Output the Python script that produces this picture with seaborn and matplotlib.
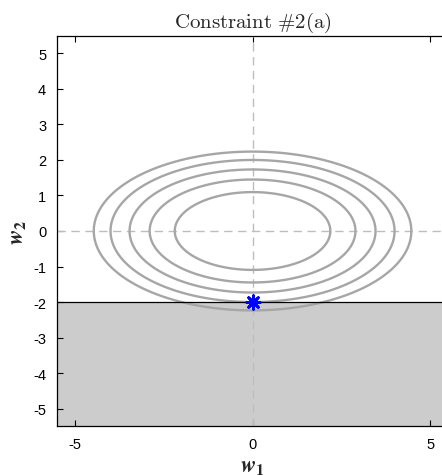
import numpy as np
import pandas as pd
import matplotlib
matplotlib.use("Agg")
import matplotlib.pyplot as plt
import seaborn as sns

# level sets of f(w) = (w1/2)^2 + w2^2
levels = [1.2, 2.1, 3.0, 4.0, 5.0]
# constraint w2 >= -2 and the constrained optimum
bound = -2.0
opt_w1 = [0.0]
opt_w2 = [-2.0]
ticks = [-5, 0, 5]
ytick_vals = [-5, -4, -3, -2, -1, 0, 1, 2, 3, 4, 5]
lims = (-5.5, 5.5)

sns.set_theme(style="ticks")
plt.rcParams["font.family"] = ["Liberation Sans", "DejaVu Sans"]
plt.rcParams["mathtext.fontset"] = "cm"

fig = plt.figure(figsize=(4.42, 4.77), dpi=100)
ax = fig.add_axes([57.3 / 442, (477 - 427.3) / 477, 390.5 / 442, 390.6 / 477])

# grid for the contours
g = np.linspace(lims[0], lims[1], 601)
W1, W2 = np.meshgrid(g, g)
F = (W1 / 2) ** 2 + W2 ** 2

# infeasible region
ax.axhspan(lims[0], bound, color="#cccccc", lw=0, zorder=0)
ax.axhline(bound, color="black", lw=0.9, zorder=3)

# dashed axes through origin
ax.axhline(0, color="#bdbdbd", lw=1.0, ls=(0, (6, 4)), zorder=1)
ax.axvline(0, color="#bdbdbd", lw=1.0, ls=(0, (6, 4)), zorder=1)

ax.contour(W1, W2, F, levels=levels, colors="#a6a6a6", linewidths=1.7, zorder=2)

pts = pd.DataFrame({"w1": opt_w1, "w2": opt_w2})
sns.scatterplot(data=pts, x="w1", y="w2", ax=ax, marker=(8, 2, 0), s=95,
                color="blue", edgecolor="blue", linewidth=2.0, zorder=5)

ax.set_xlim(*lims)
ax.set_ylim(*lims)
ax.set_xticks(ticks)
ax.set_yticks(ytick_vals)
ax.set_yticklabels([str(v) for v in ytick_vals])
ax.set_xticklabels([str(v) for v in ticks])
ax.tick_params(direction="in", length=4, width=0.8, labelsize=10.5, top=True, right=True, colors="black")
ax.tick_params(axis="x", pad=8)
ax.tick_params(axis="y", pad=8)
for s in ax.spines.values():
    s.set_color("black")
    s.set_linewidth(0.9)

ax.set_title(r"$\mathrm{Constraint\ \#2(a)}$", fontsize=15, pad=6)
ax.set_xlabel(r"$\mathbfit{w}_{\mathbf{1}}$", fontsize=16.5, math_fontfamily="stix", labelpad=1)
ax.set_ylabel(r"$\mathbfit{w}_{\mathbf{2}}$", fontsize=16.5, math_fontfamily="stix", labelpad=4)

fig.savefig("out.png", dpi=100)
